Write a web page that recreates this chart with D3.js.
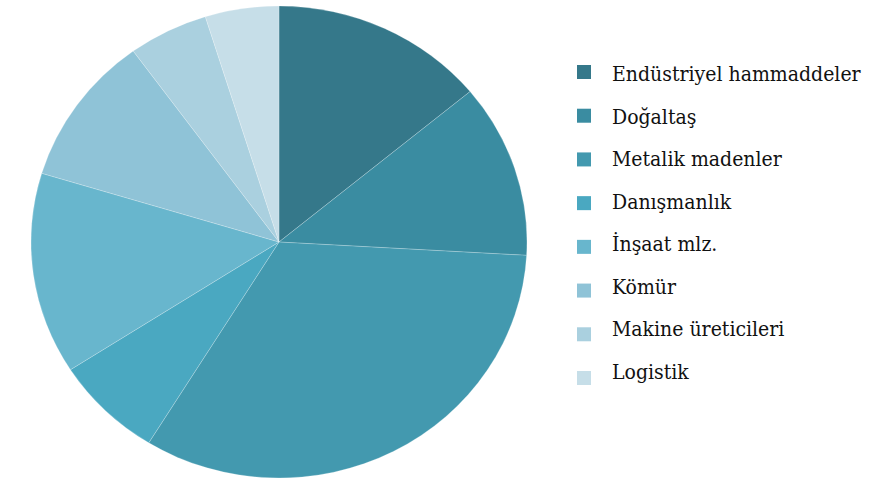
<!DOCTYPE html>
<html>
<head>
<meta charset="utf-8">
<script src="https://cdn.jsdelivr.net/npm/d3@7"></script>
<style>
  html, body { margin: 0; padding: 0; background: #ffffff; }
  svg { display: block; }
  .lg { font-family: "DejaVu Serif"; font-stretch: condensed; }
</style>
</head>
<body>
<svg id="chart" width="881" height="483"></svg>
<script>
const categories = ["Endüstriyel hammaddeler", "Doğaltaş", "Metalik madenler", "Danışmanlık", "İnşaat mlz.", "Kömür", "Makine üreticileri", "Logistik"];
const values = [14.0, 11.9, 32.9, 7.1, 13.8, 10.3, 5.2, 4.8];
const colors = ["#35788a", "#3a8ca1", "#4399af", "#4aa8c1", "#68b6cd", "#8fc3d7", "#aad0df", "#c6dee8"];

const svg = d3.select("#chart");
const data = categories.map((c, i) => ({ name: c, value: values[i], color: colors[i] }));

const cx = 279, cy = 242, rx = 248, ry = 236;
const pie = d3.pie().sort(null).value(d => d.value);
const arc = d3.arc().innerRadius(0).outerRadius(ry);

const g = svg.append("g")
  .attr("transform", `translate(${cx},${cy}) scale(${rx / ry},1)`);

g.selectAll("path")
  .data(pie(data))
  .join("path")
  .attr("d", arc)
  .attr("fill", d => d.data.color)
  .attr("stroke", "rgba(255,255,255,0.3)")
  .attr("stroke-width", 0.7);

const squareY = d3.scalePoint().domain(categories).range([72, 378]);
const textY = d3.scalePoint().domain(categories).range([81, 379]);

const legend = svg.append("g");
legend.selectAll("rect")
  .data(data)
  .join("rect")
  .attr("x", 577)
  .attr("y", d => squareY(d.name) - 7)
  .attr("width", 14)
  .attr("height", 14)
  .attr("fill", d => d.color);

legend.selectAll("text")
  .data(data)
  .join("text")
  .attr("class", "lg")
  .attr("x", 612)
  .attr("y", d => textY(d.name))
  .style("font-size", "21px")
  .attr("fill", "#111111")
  .text(d => d.name);
</script>
</body>
</html>
